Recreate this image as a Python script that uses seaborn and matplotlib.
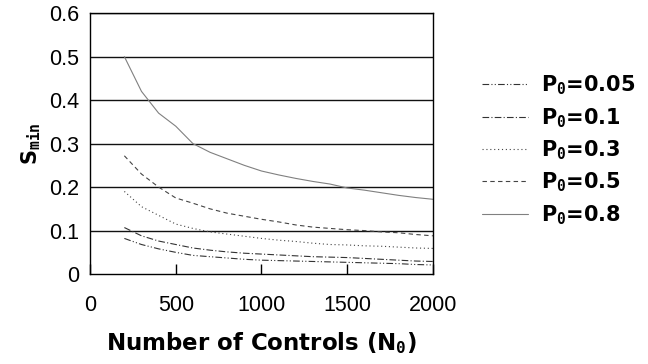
import matplotlib
matplotlib.use("Agg")
import matplotlib.pyplot as plt
import numpy as np
import pandas as pd
import seaborn as sns

# ── Datos ─────────────────────────────────────────────────────────
n_controls = [200, 300, 400, 500, 600, 700, 800, 900, 1000, 1100,
              1200, 1300, 1400, 1500, 1600, 1700, 1800, 1900, 2000]
s_p005 = [0.082, 0.068, 0.058, 0.050, 0.043, 0.040, 0.037, 0.034, 0.032, 0.031,
          0.030, 0.029, 0.028, 0.027, 0.026, 0.025, 0.024, 0.022, 0.021]
s_p01 = [0.107, 0.088, 0.076, 0.068, 0.060, 0.055, 0.051, 0.048, 0.046, 0.044,
         0.042, 0.040, 0.039, 0.038, 0.036, 0.034, 0.032, 0.030, 0.029]
s_p03 = [0.190, 0.155, 0.135, 0.115, 0.105, 0.097, 0.092, 0.087, 0.082, 0.078,
         0.075, 0.071, 0.068, 0.067, 0.065, 0.064, 0.062, 0.060, 0.059]
s_p05 = [0.272, 0.230, 0.200, 0.175, 0.163, 0.150, 0.140, 0.133, 0.126, 0.120,
         0.113, 0.108, 0.105, 0.102, 0.100, 0.097, 0.095, 0.091, 0.088]
s_p08 = [0.500, 0.420, 0.370, 0.340, 0.300, 0.280, 0.265, 0.250, 0.237, 0.228,
         0.220, 0.213, 0.207, 0.198, 0.193, 0.187, 0.181, 0.176, 0.172]
labels = [r"P$_0$=0.05", r"P$_0$=0.1", r"P$_0$=0.3", r"P$_0$=0.5", r"P$_0$=0.8"]
y_ticks = [0, 0.1, 0.2, 0.3, 0.4, 0.5, 0.6]
y_tick_labels = ["0", "0.1", "0.2", "0.3", "0.4", "0.5", "0.6"]
x_ticks = [0, 500, 1000, 1500, 2000]

series = [s_p005, s_p01, s_p03, s_p05, s_p08]
df = pd.DataFrame({
    "N": np.tile(n_controls, len(series)),
    "S": np.concatenate(series),
    "P0": np.repeat(labels, len(n_controls)),
})

sns.set_style("white")
plt.rcParams["font.family"] = ["Liberation Sans", "DejaVu Sans"]
plt.rcParams["text.color"] = "black"
plt.rcParams["axes.labelcolor"] = "black"
plt.rcParams["xtick.color"] = "black"
plt.rcParams["ytick.color"] = "black"
plt.rcParams["mathtext.fontset"] = "custom"
plt.rcParams["mathtext.rm"] = "DejaVu Sans Mono:bold"
plt.rcParams["mathtext.it"] = "DejaVu Sans Mono:bold"
plt.rcParams["mathtext.bf"] = "DejaVu Sans Mono:bold"

fig = plt.figure(figsize=(6.48, 3.64), dpi=100)
ax = fig.add_axes([0.139, 0.247, 0.529, 0.717])

palette = dict(zip(labels, ["#333333", "#333333", "#444444", "#444444", "#808080"]))
dashes = dict(zip(labels, [(6, 2, 1, 2, 1, 2), (6, 2, 1, 2), (1, 2.5), (4, 3), ""]))

sns.lineplot(data=df, x="N", y="S", hue="P0", style="P0", palette=palette,
             dashes=dashes, linewidth=0.8, ax=ax)

for y in y_ticks[1:]:
    ax.axhline(y, color="#111111", linewidth=1.0, zorder=0)

ax.set_xlim(0, 2000)
ax.set_ylim(0, 0.6)
ax.set_xticks(x_ticks)
ax.set_yticks(y_ticks)
ax.set_xticklabels([str(t) for t in x_ticks])
ax.set_yticklabels(y_tick_labels)
ax.tick_params(axis="x", direction="in", length=7, width=1, pad=15,
               labelsize=15.5, bottom=True)
ax.tick_params(axis="y", length=0, pad=8, labelsize=15.5)
for sp in ax.spines.values():
    sp.set_color("black")
    sp.set_linewidth(1.0)

ax.set_xlabel(r"Number of Controls (N$_0$)", fontsize=16.5, fontweight="bold",
              family="DejaVu Sans", labelpad=10)
ax.set_ylabel(r"S$_{\rm min}$", fontsize=15, fontweight="bold",
              family="DejaVu Sans", labelpad=4)

handles, _ = ax.get_legend_handles_labels()
leg = ax.legend(handles, labels, loc="center left", bbox_to_anchor=(1.09, 0.475),
                frameon=False, handlelength=2.2, handletextpad=0.6,
                labelspacing=0.42,
                prop={"family": "DejaVu Sans", "weight": "bold", "size": 15})

fig.savefig("out.png", dpi=100)
